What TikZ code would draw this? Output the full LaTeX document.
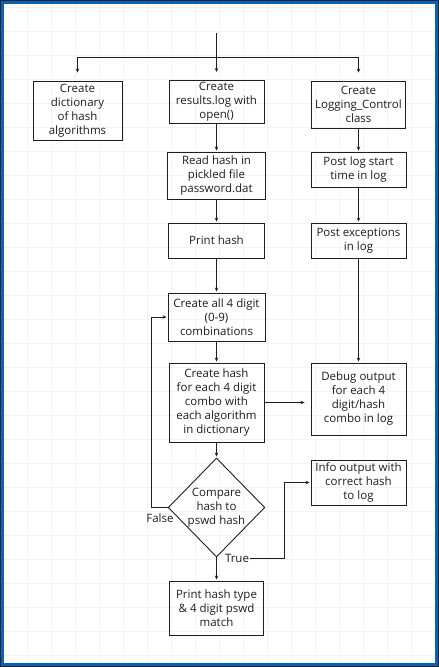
\documentclass[tikz,border=0pt]{standalone}
\usepackage{fontspec}
\setmainfont{Open Sans}
\usetikzlibrary{shapes.geometric, arrows.meta}
\definecolor{framedark}{HTML}{1B2430}
\definecolor{frameblue}{HTML}{0B62B4}
\definecolor{gridline}{HTML}{F7F3E6}
\definecolor{ink}{HTML}{1E1E1E}
\begin{document}
\begin{tikzpicture}[x = 1pt, y = -1pt,
        stepbox/.style = {draw = ink, line width = 0.9pt, align = center, inner sep = 2pt,
            text = ink, font = \fontsize{11.5}{14}\selectfont},
        decision/.style = {stepbox, diamond, inner sep = 0pt},
        tag/.style = {text = ink, inner sep = 1pt, font = \fontsize{11.5}{14}\selectfont},
        link/.style = {draw = ink, line width = 0.8pt},
        flow/.style = {link, -{Stealth[length = 4pt, width = 3.5pt]}, shorten > = 1pt}]
    \useasboundingbox (0,0) rectangle (439,667);
    \begin{scope}
        \fill[framedark] (0,0) rectangle (439,667);
        \fill[frameblue] (1,1) rectangle (438,666);
        \fill[white] (4,4) rectangle (435,663);
        \foreach \x in {27, 51, ..., 411}
            \draw[line width = 0.5pt, gridline] (\x,4) -- (\x,663);
        \foreach \y in {7, 31, ..., 655}
            \draw[line width = 0.5pt, gridline] (4,\y) -- (435,\y);
    \end{scope}
    \begin{scope}
        \node[stepbox, minimum width = 89pt, minimum height = 59pt] (dict) at (77.5,110.5) {Create\\dictionary\\of hash\\algorithms};
        \node[stepbox, minimum width = 95pt, minimum height = 42pt] (results) at (216.5,102) {Create\\results.log with\\open()};
        \node[stepbox, minimum width = 94pt, minimum height = 47pt] (logctl) at (358.5,104.5) {Create\\Logging\_Control\\class};
        \node[stepbox, minimum width = 98pt, minimum height = 47pt] (readhash) at (216.5,175.5) {Read hash in\\pickled file\\password.dat};
        \node[stepbox, minimum width = 95pt, minimum height = 35pt] (poststart) at (358.5,169.5) {Post log start\\time in log};
        \node[stepbox, minimum width = 96pt, minimum height = 35pt] (printhash) at (216.5,240.5) {Print hash};
        \node[stepbox, minimum width = 95pt, minimum height = 35pt] (postexc) at (358.5,240.5) {Post exceptions\\in log};
        \node[stepbox, minimum width = 97pt, minimum height = 48pt] (createall) at (216.5,317) {Create all 4 digit\\(0-9)\\combinations};
        \node[stepbox, minimum width = 95pt, minimum height = 79pt] (createhash) at (216.5,402.5) {Create hash\\for each 4 digit\\combo with\\each algorithm\\in dictionary};
        \node[stepbox, minimum width = 95pt, minimum height = 72pt] (debug) at (358.5,399) {Debug output\\for each 4\\digit/hash\\combo in log};
        \node[decision, minimum width = 94pt, minimum height = 99pt] (compare) at (216.5,507.5) {Compare\\hash to\\pswd hash};
        \node[stepbox, minimum width = 95pt, minimum height = 45pt] (info) at (358.5,482.5) {Info output with\\correct hash\\to log};
        \node[stepbox, minimum width = 94pt, minimum height = 54pt] (printtype) at (216.5,608) {Print hash type\\\& 4 digit pswd\\match};
        \node[tag] (false) at (160,518) {False};
        \node[tag] (true) at (237,558) {True};
    \end{scope}
    \begin{scope}
        \coordinate (start) at (216.5,33);
        \coordinate (split) at (216.5,57);
        \coordinate (tbend) at (284,558);
        \draw[link] (start) -- (split);
        \draw[flow, shorten > = 8pt] (split) -| (dict.north);
        \draw[flow, shorten > = 8pt] (split) -- (results.north);
        \draw[flow, shorten > = 8pt] (split) -| (logctl.north);
        \draw[flow] (results) -- (readhash);
        \draw[flow] (readhash) -- (printhash);
        \draw[flow] (printhash) -- (createall);
        \draw[flow] (createall) -- (createhash);
        \draw[flow] (createhash) -- (compare);
        \draw[flow] (compare) -- (printtype);
        \draw[flow] (logctl) -- (poststart);
        \draw[flow] (poststart) -- (postexc);
        \draw[flow] (postexc) -- (debug);
        \draw[flow, shorten > = 6pt] (createhash.east) -- (createhash.east -| debug.west);
        \draw[flow] (compare.west) -- ++(-16,0) |- (createall.west);
        \draw[flow] (true.east) -- (tbend) |- (info.west);
    \end{scope}
\end{tikzpicture}
\end{document}
